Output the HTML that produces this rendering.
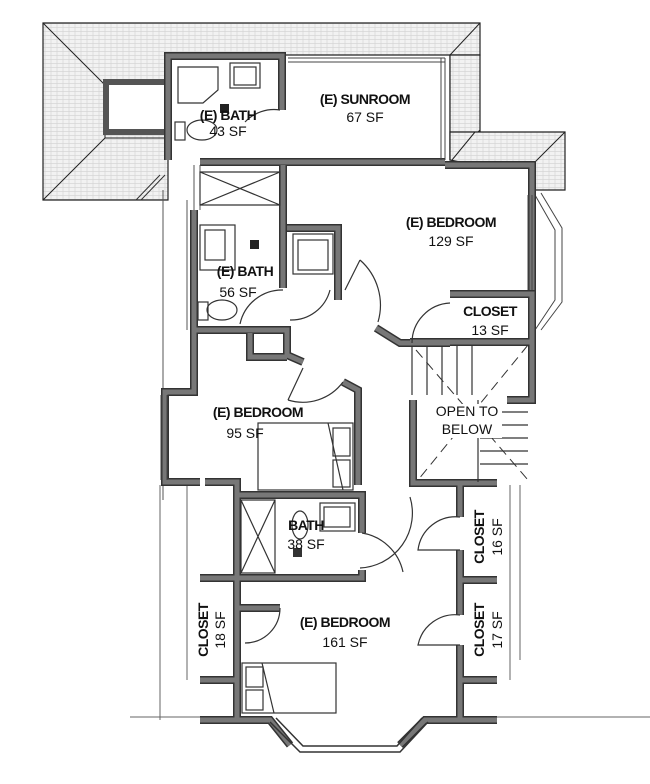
<!DOCTYPE html>
<html><head><style>
html,body{margin:0;padding:0;background:#fff;}
svg{display:block}
text{font-family:"Liberation Sans",sans-serif;fill:#111;text-anchor:middle}
.l{font-size:14px;font-weight:bold;letter-spacing:-0.5px}
.s{font-size:14px}
</style></head><body>
<svg width="650" height="784" viewBox="0 0 650 784" xmlns="http://www.w3.org/2000/svg">
<defs>
<pattern id="h" width="6" height="4" patternUnits="userSpaceOnUse">
<rect width="6" height="4" fill="#f2f2f2"/><path d="M0 3.5H6M3 0V4" stroke="#d6d6d6" stroke-width="0.7"/>
</pattern>
</defs>
<!-- roofs -->
<path d="M43 23H480V55H450V160H450V55H168V200H43Z" fill="url(#h)" stroke="#222" stroke-width="1.2"/>
<rect x="450" y="55" width="30" height="105" fill="url(#h)" stroke="#222" stroke-width="1.2"/>
<path d="M43 23L105 85V138L43 200M105 85H168M105 138H168M480 23L450 55M450 160L480 130" fill="none" stroke="#222" stroke-width="1"/>
<path d="M450 160V132H565V190H535V165H475Z" fill="url(#h)" stroke="#222" stroke-width="1.2"/>
<path d="M565 132L535 162M475 132L452 160" stroke="#222" stroke-width="1"/>
<rect x="106" y="82" width="62" height="50" fill="#fff" stroke="#555" stroke-width="6"/>
<path d="M136 200L160 175M141 200L165 175" stroke="#333" stroke-width="1"/>
<path d="M163 190V500M187 200V330" stroke="#555" stroke-width="1"/>
<path d="M160 485V720M187 485V680M130 717H200M430 717H650M510 485V680M520 485V660" stroke="#666" stroke-width="1" fill="none"/>
<path d="M535 195L555 230V300L535 330M541 193L562 228V302L541 330" stroke="#444" stroke-width="1" fill="none"/>
<g fill="none" stroke="#333" stroke-width="8" stroke-linejoin="miter">
<path d="M168 160V56H282V110"/>
<path d="M200 162H445"/>
<path d="M445 165H532V290"/>
<path d="M194 210V392H165V482H200"/>
<path d="M283 165V288"/>
<path d="M287 228H338V300"/>
<path d="M194 330H287V355L303 362"/>
<path d="M250 333V357H287"/>
<path d="M343 382L358 390V485"/>
<path d="M376 328L400 343H450"/>
<path d="M450 294H532V342H410"/>
<path d="M532 342V400H507"/>
<path d="M413 400V483H497"/>
<path d="M205 482H237V495H362V533"/>
<path d="M237 495V720"/>
<path d="M237 578H362V570"/>
<path d="M200 578H237M200 680H237M237 608H280M237 648V720"/>
<path d="M460 485V517M460 550V615M460 645V720M460 580H497M460 680H497"/>
<path d="M200 720H270L290 745M400 745L425 720H497"/>
</g>
<g fill="none" stroke="#777" stroke-width="5">
<path d="M168 160V56H282V110M200 162H445M445 165H532V290M194 210V392H165V482H200M283 165V288M287 228H338V300M194 330H287V355L303 362M250 333V357H287M343 382L358 390V485M376 328L400 343H450M450 294H532V342H410M532 342V400H507M413 400V483H497M205 482H237V495H362V533M237 495V720M237 578H362V570M200 578H237M200 680H237M237 608H280M237 648V720M460 485V517M460 550V615M460 645V720M460 580H497M460 680H497M200 720H270L290 745M400 745L425 720H497"/>
</g>
<path d="M200 165V210M194 165V210" stroke="#555" stroke-width="1"/>
<path d="M270 722L300 752H400L428 722M276 718L303 746H397L422 718" stroke="#333" stroke-width="1.5" fill="none"/>
<path d="M288 58H445M288 62H445M441 58V160M445 58V160M161 395V480M167 395V480M528 195V290M532 195V290" stroke="#444" stroke-width="1"/>
<g fill="none" stroke="#333" stroke-width="1.2">
<path d="M178 67H218V90L203 103H178Z"/><rect x="230" y="63" width="30" height="25"/><rect x="234" y="67" width="22" height="18"/>
<ellipse cx="202" cy="130" rx="15" ry="10"/><rect x="175" y="122" width="10" height="18"/>
<path d="M200 172H280V205H200ZM200 172L280 205M280 172L200 205"/>
<rect x="200" y="225" width="35" height="45"/><rect x="205" y="230" width="20" height="30"/>
<ellipse cx="222" cy="310" rx="15" ry="10"/><rect x="198" y="302" width="10" height="18"/>
<rect x="293" y="234" width="40" height="40"/><rect x="298" y="240" width="30" height="30"/>
<rect x="258" y="423" width="95" height="67"/><path d="M328 423L343 490"/><rect x="333" y="428" width="17" height="28"/><rect x="333" y="460" width="17" height="27"/>
<rect x="242" y="663" width="94" height="50"/><path d="M262 663L274 713"/><rect x="246" y="667" width="17" height="20"/><rect x="246" y="690" width="17" height="20"/>
<path d="M241 500H275V573H241ZM241 500L275 573M275 500L241 573"/>
<rect x="320" y="503" width="35" height="28"/><rect x="324" y="507" width="26" height="20"/>
<ellipse cx="300" cy="525" rx="8" ry="14"/>
<path d="M245 122A40 40 0 0 1 280 110M240 324A43 43 0 0 1 283 290M290 320A40 40 0 0 0 330 290M345 290L360 260M360 260A60 60 0 0 1 378 322M303 368L288 400M288 400A50 50 0 0 0 343 382M412 343A40 40 0 0 1 450 303M360 568A55 55 0 0 0 410 497M362 533A50 50 0 0 1 403 572M460 517A38 38 0 0 0 418 550H460M460 615A38 38 0 0 0 418 645H460M280 608A35 35 0 0 1 245 643"/>
<path d="M412 346V395M427 346V395M442 346V395M457 346V395M472 346V395M480 412H528M480 425H528M480 438H528M480 451H528M480 464H528M478 400V482"/>
</g>
<path d="M416 350L528 480M528 345L418 480" stroke="#333" stroke-width="1" stroke-dasharray="10,6"/>
<rect x="220" y="104" width="9" height="9" fill="#222"/><rect x="250" y="240" width="9" height="9" fill="#222"/><rect x="293" y="548" width="9" height="9" fill="#333"/>
<rect x="432" y="404" width="70" height="34" fill="#fff"/>
<text class="l" x="228" y="120">(E) BATH</text><text class="s" x="228" y="136">43 SF</text>
<text class="l" x="365" y="104">(E) SUNROOM</text><text class="s" x="365" y="122">67 SF</text>
<text class="l" x="451" y="227">(E) BEDROOM</text><text class="s" x="451" y="246">129 SF</text>
<text class="l" x="490" y="316">CLOSET</text><text class="s" x="490" y="335">13 SF</text>
<text class="l" x="245" y="276">(E) BATH</text><text class="s" x="238" y="297">56 SF</text>
<text class="l" x="258" y="417">(E) BEDROOM</text><text class="s" x="245" y="438">95 SF</text>
<text class="s" x="467" y="416">OPEN TO</text><text class="s" x="467" y="434">BELOW</text>
<text class="l" x="306" y="530">BATH</text><text class="s" x="306" y="549">38 SF</text>
<text class="l" x="345" y="627">(E) BEDROOM</text><text class="s" x="345" y="647">161 SF</text>
<text class="l" transform="translate(484,537) rotate(-90)">CLOSET</text><text class="s" transform="translate(502,537) rotate(-90)">16 SF</text>
<text class="l" transform="translate(484,630) rotate(-90)">CLOSET</text><text class="s" transform="translate(502,630) rotate(-90)">17 SF</text>
<text class="l" transform="translate(208,630) rotate(-90)">CLOSET</text><text class="s" transform="translate(225,630) rotate(-90)">18 SF</text>
</svg>
</body></html>
